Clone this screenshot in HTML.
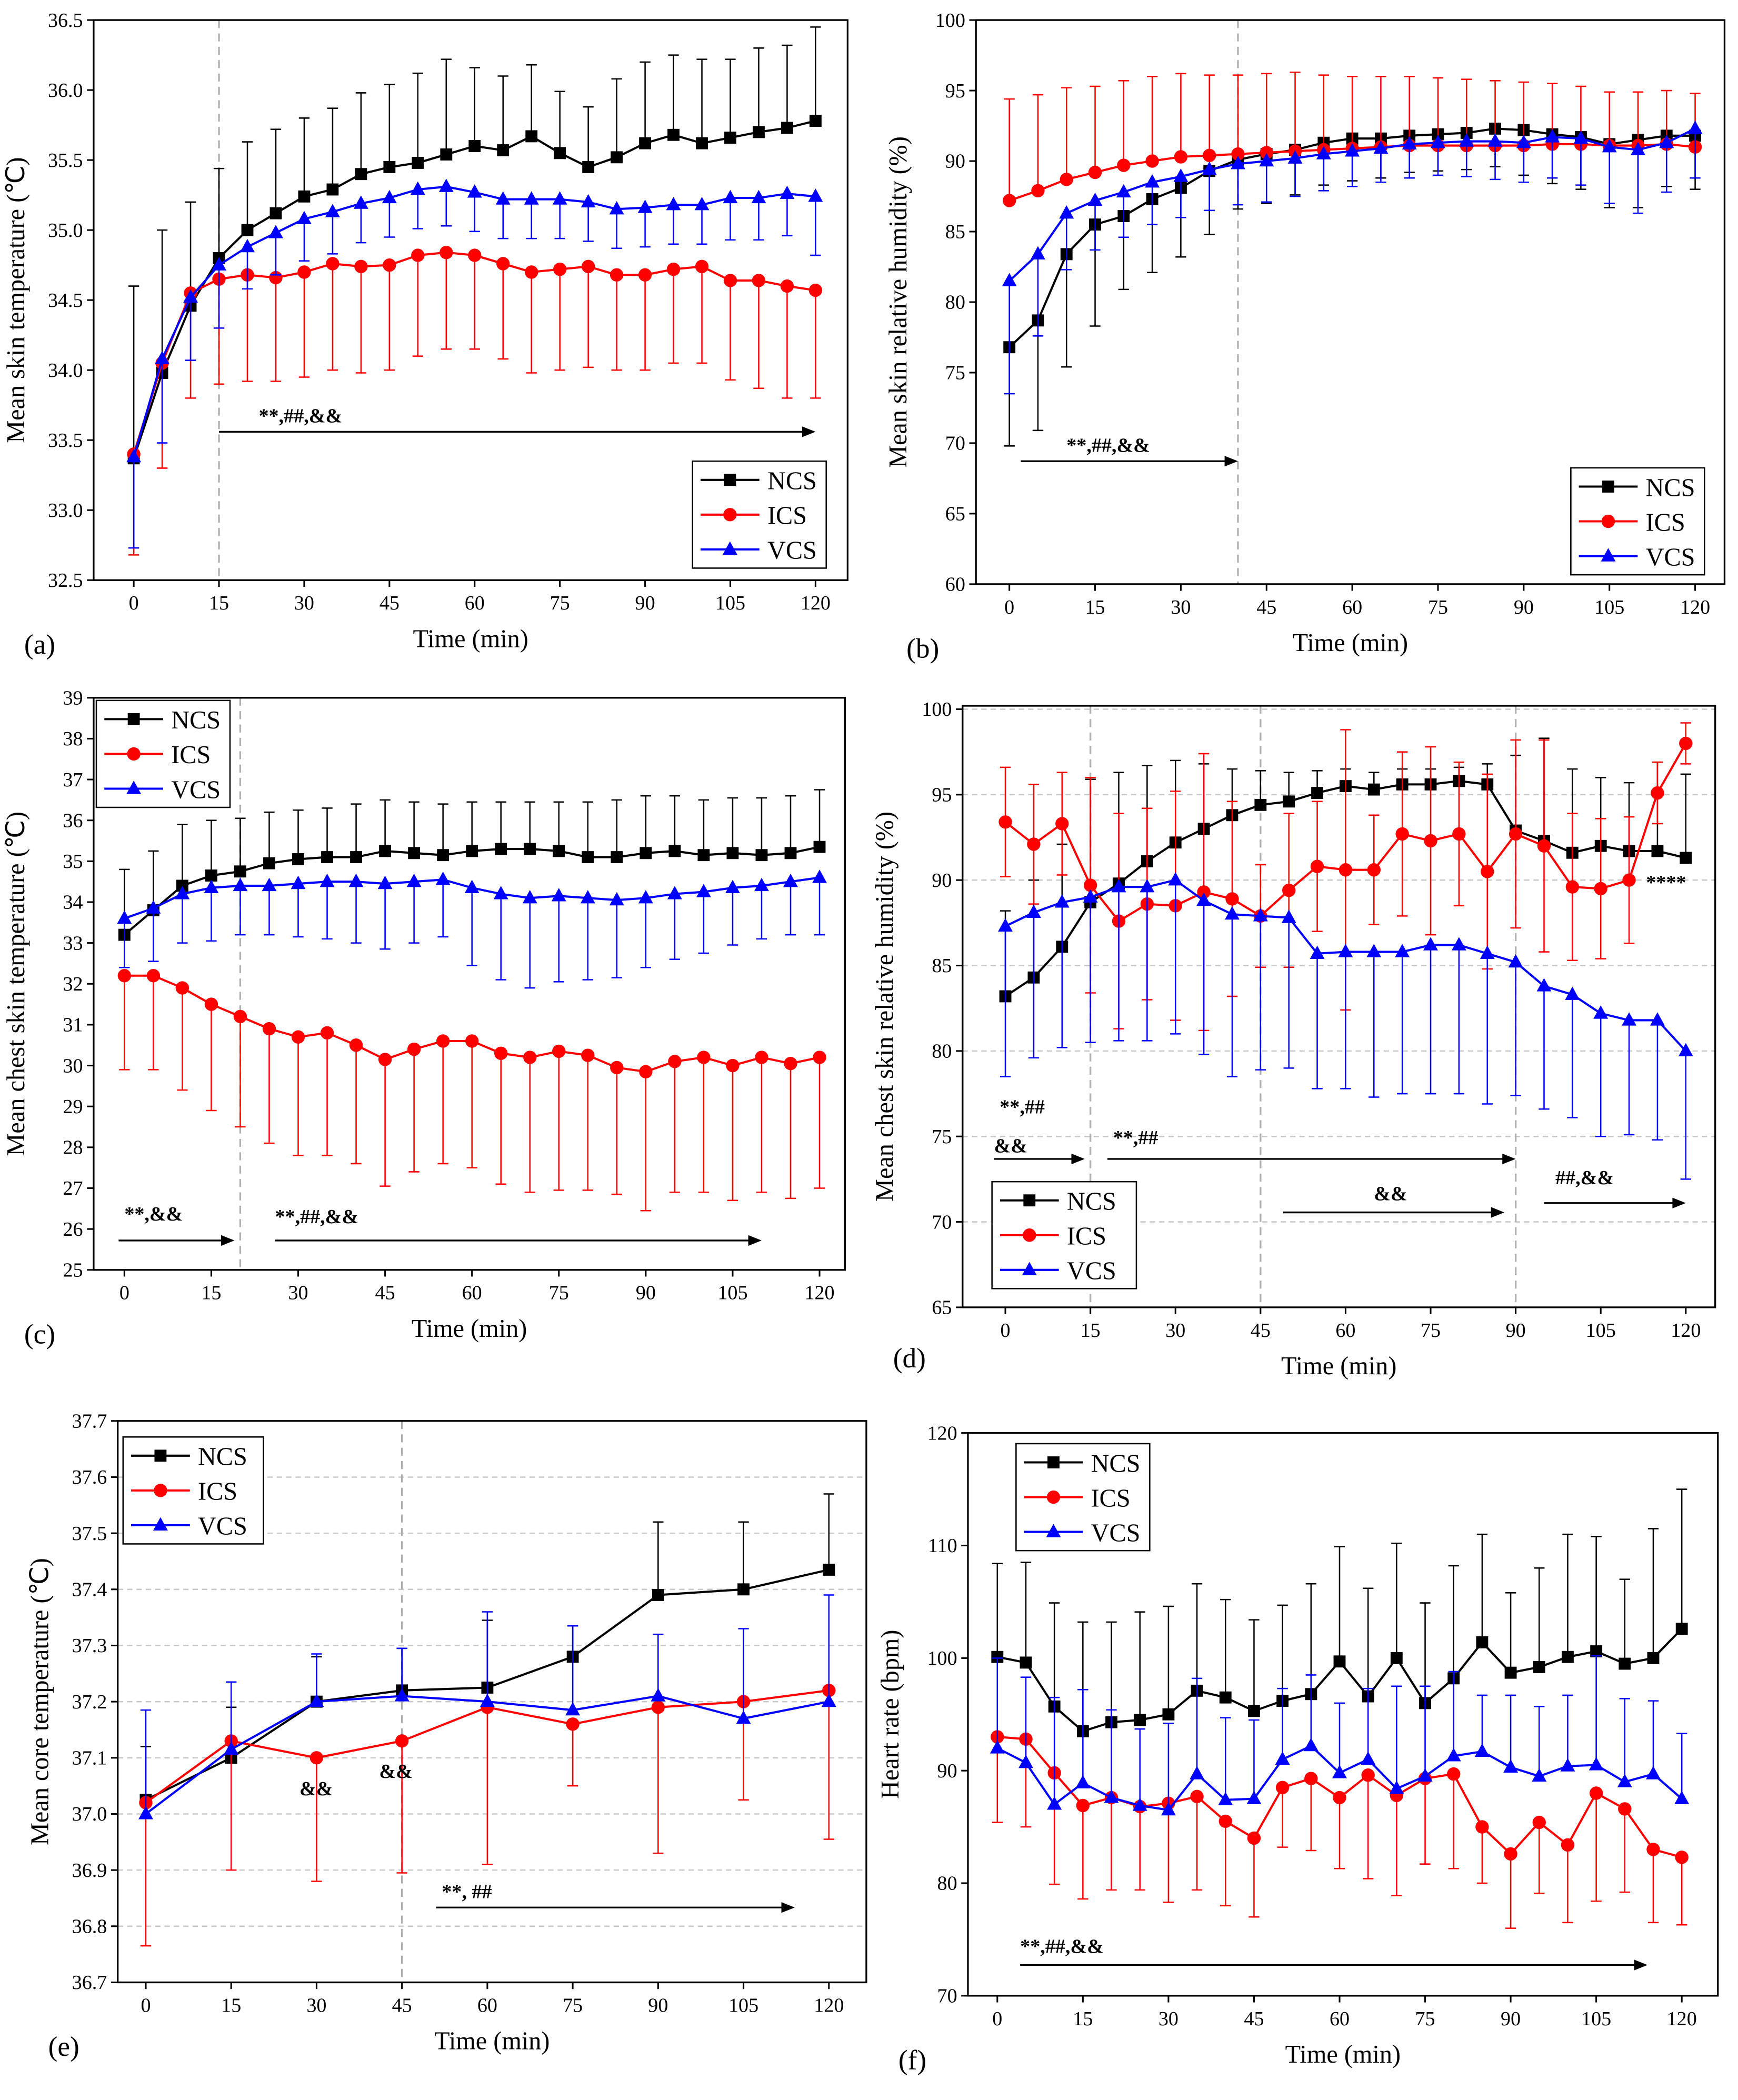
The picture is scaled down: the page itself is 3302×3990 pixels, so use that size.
<!DOCTYPE html>
<html><head><meta charset="utf-8"><style>
html,body{margin:0;padding:0;background:#fff}
svg{display:block}
text{font-family:"Liberation Serif",serif;fill:#000}
</style></head><body>
<svg id="fig" xmlns="http://www.w3.org/2000/svg" width="3302" height="3990" viewBox="0 0 1300 1571"></svg>
<script>
// ---------- data ----------
const t5 = [0,5,10,15,20,25,30,35,40,45,50,55,60,65,70,75,80,85,90,95,100,105,110,115,120];
const t15 = [0,15,30,45,60,75,90,105,120];
const xTicks = [0,15,30,45,60,75,90,105,120];

const aNCS = [33.37,33.98,34.46,34.80,35.00,35.12,35.24,35.29,35.40,35.45,35.48,35.54,35.60,35.57,35.67,35.55,35.45,35.52,35.62,35.68,35.62,35.66,35.70,35.73,35.78];
const aNCSerr = [1.23,1.02,0.74,0.64,0.63,0.60,0.56,0.58,0.58,0.59,0.64,0.68,0.56,0.53,0.51,0.44,0.43,0.56,0.58,0.57,0.60,0.56,0.60,0.59,0.67];
const aICS = [33.40,34.05,34.55,34.65,34.68,34.66,34.70,34.76,34.74,34.75,34.82,34.84,34.82,34.76,34.70,34.72,34.74,34.68,34.68,34.72,34.74,34.64,34.64,34.60,34.57];
const aICSerr = [0.72,0.75,0.75,0.75,0.76,0.74,0.75,0.76,0.76,0.75,0.72,0.69,0.67,0.68,0.72,0.72,0.72,0.68,0.68,0.67,0.69,0.71,0.77,0.80,0.77];
const aVCS = [33.38,34.08,34.52,34.75,34.88,34.98,35.08,35.13,35.19,35.23,35.29,35.31,35.27,35.22,35.22,35.22,35.20,35.15,35.16,35.18,35.18,35.23,35.23,35.26,35.24];
const aVCSerr = [0.65,0.60,0.45,0.45,0.30,0.30,0.30,0.30,0.28,0.28,0.28,0.28,0.28,0.28,0.28,0.28,0.28,0.28,0.28,0.28,0.28,0.30,0.30,0.30,0.42];

const bNCS = [76.8,78.7,83.4,85.5,86.1,87.3,88.1,89.3,90.1,90.5,90.8,91.3,91.6,91.6,91.8,91.9,92.0,92.3,92.2,91.9,91.7,91.2,91.5,91.8,91.8];
const bNCSerr = [7.0,7.8,8.0,7.2,5.2,5.2,4.9,4.5,3.5,3.5,3.2,3.0,3.0,2.8,2.6,2.6,2.6,2.7,3.2,3.5,3.7,4.5,4.8,3.6,3.8];
const bICS = [87.2,87.9,88.7,89.2,89.7,90.0,90.3,90.4,90.5,90.6,90.7,90.8,90.9,91.0,91.1,91.1,91.1,91.1,91.1,91.2,91.2,91.1,91.1,91.2,91.0];
const bICSerr = [7.2,6.8,6.5,6.1,6.0,6.0,5.9,5.7,5.6,5.6,5.6,5.3,5.1,5.0,4.9,4.8,4.7,4.6,4.5,4.3,4.1,3.8,3.8,3.8,3.8];
const bVCS = [81.5,83.4,86.3,87.2,87.8,88.5,88.9,89.4,89.8,90.0,90.2,90.5,90.7,90.9,91.2,91.3,91.4,91.4,91.3,91.7,91.6,91.0,90.8,91.3,92.3];
const bVCSerr = [8.0,5.8,4.0,3.5,3.2,3.0,2.9,2.9,2.9,2.9,2.7,2.6,2.5,2.4,2.4,2.3,2.5,2.7,2.8,2.9,3.3,4.0,4.5,3.5,3.5];

const cNCS = [33.2,33.8,34.4,34.65,34.75,34.95,35.05,35.1,35.1,35.25,35.2,35.15,35.25,35.3,35.3,35.25,35.1,35.1,35.2,35.25,35.15,35.2,35.15,35.2,35.35];
const cNCSerr = [1.6,1.45,1.5,1.35,1.3,1.25,1.2,1.2,1.3,1.25,1.25,1.25,1.2,1.15,1.15,1.2,1.35,1.4,1.4,1.35,1.35,1.35,1.4,1.4,1.4];
const cICS = [32.2,32.2,31.9,31.5,31.2,30.9,30.7,30.8,30.5,30.15,30.4,30.6,30.6,30.3,30.2,30.35,30.25,29.95,29.85,30.1,30.2,30.0,30.2,30.05,30.2];
const cICSerr = [2.3,2.3,2.5,2.6,2.7,2.8,2.9,3.0,2.9,3.1,3.0,3.0,3.1,3.2,3.3,3.4,3.3,3.1,3.4,3.2,3.3,3.3,3.3,3.3,3.2];
const cVCS = [33.6,33.85,34.2,34.35,34.4,34.4,34.45,34.5,34.5,34.45,34.5,34.55,34.35,34.2,34.1,34.15,34.1,34.05,34.1,34.2,34.25,34.35,34.4,34.5,34.6];
const cVCSerr = [1.2,1.3,1.2,1.3,1.2,1.2,1.3,1.4,1.5,1.6,1.5,1.4,1.9,2.1,2.2,2.1,2.0,1.9,1.7,1.6,1.5,1.4,1.3,1.3,1.4];

const dNCS = [83.2,84.3,86.1,88.7,89.8,91.1,92.2,93.0,93.8,94.4,94.6,95.1,95.5,95.3,95.6,95.6,95.8,95.6,92.9,92.3,91.6,92.0,91.7,91.7,91.3];
const dNCSerr = [5.0,5.7,6.0,7.2,6.5,5.6,4.8,3.8,2.7,2.0,1.7,1.3,1.0,1.0,0.9,0.9,0.8,1.2,4.4,6.0,4.9,4.0,4.0,5.2,4.9];
const dICS = [93.4,92.1,93.3,89.7,87.6,88.6,88.5,89.3,88.9,87.9,89.4,90.8,90.6,90.6,92.7,92.3,92.7,90.5,92.7,92.0,89.6,89.5,90.0,95.1,98.0];
const dICSerr = [3.2,3.5,3.0,6.3,6.3,5.6,6.7,8.1,5.7,3.0,4.5,3.8,8.2,3.2,4.8,5.5,4.2,5.7,5.5,6.2,4.3,4.1,3.7,1.8,1.2];
const dVCS = [87.3,88.1,88.7,89.0,89.6,89.6,90.0,88.8,88.0,87.9,87.8,85.7,85.8,85.8,85.8,86.2,86.2,85.7,85.2,83.8,83.3,82.2,81.8,81.8,80.0];
const dVCSerr = [8.8,8.5,8.5,8.5,9.0,9.0,9.0,9.0,9.5,9.0,8.8,7.9,8.0,8.5,8.3,8.7,8.7,8.8,7.8,7.2,7.2,7.2,6.7,7.0,7.5];

const eNCS = [37.025,37.10,37.20,37.22,37.225,37.28,37.39,37.40,37.435];
const eNCSerr = [0.095,0.09,0.08,0.075,0.12,0.055,0.13,0.12,0.135];
const eICS = [37.02,37.13,37.10,37.13,37.19,37.16,37.19,37.20,37.22];
const eICSerr = [0.255,0.23,0.22,0.235,0.28,0.11,0.26,0.175,0.265];
const eVCS = [37.0,37.115,37.20,37.21,37.20,37.185,37.21,37.17,37.20];
const eVCSerr = [0.185,0.12,0.085,0.085,0.16,0.15,0.11,0.16,0.19];

const fNCS = [100.1,99.6,95.7,93.5,94.3,94.5,95.0,97.1,96.5,95.3,96.2,96.8,99.7,96.6,100.0,96.0,98.2,101.4,98.7,99.2,100.1,100.6,99.5,100.0,102.6];
const fNCSerr = [8.3,8.9,9.2,9.7,8.9,9.6,9.6,9.5,8.7,8.1,8.5,9.8,10.2,9.6,10.2,8.9,10.0,9.6,7.1,8.8,10.9,10.2,7.5,11.5,12.4];
const fICS = [93.0,92.8,89.8,86.9,87.6,86.8,87.1,87.7,85.5,84.0,88.5,89.3,87.6,89.6,87.8,89.3,89.7,85.0,82.6,85.4,83.4,88.0,86.6,83.0,82.3];
const fICSerr = [7.6,7.8,9.9,8.3,8.2,7.4,8.8,8.3,7.5,7.0,5.3,6.4,6.3,9.2,8.9,7.6,8.4,5.0,6.6,6.3,6.9,9.6,7.4,6.5,6.0];
const fVCS = [92.0,90.7,87.0,88.9,87.6,86.9,86.5,89.7,87.4,87.5,91.0,92.2,89.8,91.0,88.4,89.5,91.3,91.7,90.3,89.5,90.4,90.5,89.0,89.7,87.5];
const fVCSerr = [8.0,7.6,9.5,8.3,7.8,6.8,7.7,8.5,7.3,7.0,6.3,6.3,6.2,6.3,9.1,8.0,7.5,5.0,6.4,6.2,6.3,9.7,7.4,6.5,5.8];

const aYTicks = [32.5,33.0,33.5,34.0,34.5,35.0,35.5,36.0,36.5];
const bYTicks = [60,65,70,75,80,85,90,95,100];
const cYTicks = [25,26,27,28,29,30,31,32,33,34,35,36,37,38,39];
const dYTicks = [65,70,75,80,85,90,95,100];
const eYTicks = [36.7,36.8,36.9,37.0,37.1,37.2,37.3,37.4,37.5,37.6,37.7];
const fYTicks = [70,80,90,100,110,120];

// ---------- drawing ----------
const NS="http://www.w3.org/2000/svg";
const svg=document.getElementById('fig');
function mk(tag,attrs,parent){const e=document.createElementNS(NS,tag);for(const k in attrs)e.setAttribute(k,attrs[k]);(parent||svg).appendChild(e);return e;}
function txt(x,y,s,size,anchor,parent,extra){const e=mk('text',Object.assign({x:x,y:y,'font-size':size,'text-anchor':anchor||'middle'},extra||{}),parent);e.textContent=s;return e;}

function marker(g,kind,x,y,color){
  let m;
  if(kind==='sq') m=mk('rect',{x:x-4.5,y:y-4.5,width:9,height:9,fill:color},g);
  else if(kind==='ci') m=mk('circle',{cx:x,cy:y,r:5,fill:color},g);
  else m=mk('polygon',{points:`${x},${y-6} ${x-5.5},${y+4} ${x+5.5},${y+4}`,fill:color},g);
  
  
}

function panel(p){
  const g=mk('g',{},svg);
  
  
  const X=v=>p.x0+(p.x1-p.x0)*v/120;
  const Y=v=>p.bot+(p.top-p.bot)*(v-p.ymin)/(p.ymax-p.ymin);
  if(p.grid){p.yt.forEach(v=>{if(v>p.ymin&&v<p.ymax){const l=mk('line',{x1:p.L,x2:p.R,y1:Y(v),y2:Y(v),stroke:'#c8c8c8','stroke-width':1,'stroke-dasharray':'4,3'},g);}});}
  (p.vlines||[]).forEach(v=>{const l=mk('line',{x1:X(v),x2:X(v),y1:p.top,y2:p.bot,stroke:'#b0b0b0','stroke-width':1.3,'stroke-dasharray':'6,4'},g);});
  const fr=mk('rect',{x:p.L,y:p.top,width:p.R-p.L,height:p.bot-p.top,fill:'none',stroke:'#000','stroke-width':1.3},g);
  
  p.yt.forEach(v=>{mk('line',{x1:p.L,x2:p.L-5,y1:Y(v),y2:Y(v),stroke:'#000','stroke-width':1.2},g);
    const t=txt(p.L-8,Y(v)+5,p.yfmt(v),15,'end',g);});
  xTicks.forEach(v=>{mk('line',{x1:X(v),x2:X(v),y1:p.bot,y2:p.bot+5,stroke:'#000','stroke-width':1.2},g);
    const t=txt(X(v),p.bot+22,String(v),15,'middle',g);});
  const xt=txt((p.L+p.R)/2,p.bot+50,'Time (min)',19,'middle',g);
  const yt=txt(0,0,p.ytitle,19,'middle',g,{transform:`translate(${p.L-52},${(p.top+p.bot)/2}) rotate(-90)`});
  
  const lb=txt(p.L-52,p.bot+(p.lby||55),p.label,21,'start',g);
  p.series.forEach(s=>{
    const sg=mk('g',{},g);
    s.vals.forEach((v,i)=>{const x=X(p.t[i]);const e=s.err[i];
      let y1=Y(v),y2=Y(v);
      if(s.dir!=='down')y1=Y(v+e); if(s.dir!=='up')y2=Y(v-e);
      mk('line',{x1:x,x2:x,y1:y1,y2:y2,stroke:s.color,'stroke-width':1},sg);
      if(s.dir!=='down')mk('line',{x1:x-4,x2:x+4,y1:y1,y2:y1,stroke:s.color,'stroke-width':1},sg);
      if(s.dir!=='up')mk('line',{x1:x-4,x2:x+4,y1:y2,y2:y2,stroke:s.color,'stroke-width':1},sg);
    });
    const pts=s.vals.map((v,i)=>X(p.t[i])+','+Y(v)).join(' ');
    const pl=mk('polyline',{points:pts,fill:'none',stroke:s.color,'stroke-width':1.6},sg);
    
    s.vals.forEach((v,i)=>marker(sg,s.mk,X(p.t[i]),Y(v),s.color));
  });
  (p.arrows||[]).forEach(a=>{
    const ag=mk('g',{},g);
    if(a[0]!==null){const xa=X(a[0]),xb=X(a[1]);
      mk('line',{x1:xa,x2:xb-8,y1:a[2],y2:a[2],stroke:'#000','stroke-width':1.3},ag);
      mk('polygon',{points:`${xb},${a[2]} ${xb-10},${a[2]-4} ${xb-10},${a[2]+4}`,fill:'#000'},ag);}
    if(a[3]){const t=txt(X(a[4]),a[5],a[3],15,'start',ag,{'font-weight':'bold'});}
  });
  const lg=mk('g',{},g);
  mk('rect',{x:p.leg[0],y:p.leg[1],width:p.leg[2],height:80,fill:'#fff',stroke:'#000','stroke-width':1},lg);
  p.series.forEach((s,i)=>{const yy=p.leg[1]+14+i*26;const x0=p.leg[0]+6;
    const eg=mk('g',{},lg);
    mk('line',{x1:x0,x2:x0+44,y1:yy,y2:yy,stroke:s.color,'stroke-width':1.6},eg);
    marker(eg,s.mk,x0+22,yy,s.color);
    txt(x0+50,yy+7,s.name,19,'start',eg);
  });
}
const f1=v=>v.toFixed(1), f0=v=>String(v);
function S(n,c,m,v,e,d){return {name:n,color:c,mk:m,vals:v,err:e,dir:d};}
const K='#000',R='#f00',B='#00f';

panel({id:'a',label:'(a)',L:70,R:634,top:15,bot:434,x0:100,x1:610,ymin:32.5,ymax:36.5,yt:aYTicks,yfmt:f1,t:t5,
  ytitle:'Mean skin temperature (℃)',vlines:[15],leg:[518,345,100],
  arrows:[[15,120,323,'**,##,&&',22,316]],
  series:[S('NCS',K,'sq',aNCS,aNCSerr,'up'),S('ICS',R,'ci',aICS,aICSerr,'down'),S('VCS',B,'tr',aVCS,aVCSerr,'down')]});
panel({id:'b',label:'(b)',L:730,R:1290,top:15,bot:437,x0:755,x1:1268,ymin:60,ymax:100,yt:bYTicks,yfmt:f0,t:t5,
  ytitle:'Mean skin relative humidity (%)',vlines:[40],leg:[1175,350,100],
  arrows:[[2,40,345,'**,##,&&',10,338]],
  series:[S('NCS',K,'sq',bNCS,bNCSerr,'down'),S('ICS',R,'ci',bICS,bICSerr,'up'),S('VCS',B,'tr',bVCS,bVCSerr,'down')]});
panel({id:'c',label:'(c)',L:70,R:632,top:522,bot:950,x0:93,x1:613,ymin:25,ymax:39,yt:cYTicks,yfmt:f0,t:t5,
  ytitle:'Mean chest skin temperature (℃)',vlines:[20],leg:[72,524,100],
  arrows:[[-1,19,928,'**,&&',0,913],[26,110,928,'**,##,&&',26,915]],
  series:[S('NCS',K,'sq',cNCS,cNCSerr,'up'),S('ICS',R,'ci',cICS,cICSerr,'down'),S('VCS',B,'tr',cVCS,cVCSerr,'down')]});
panel({id:'d',label:'(d)',L:720,R:1283,top:528,bot:978,x0:752,x1:1261,ymin:65,ymax:100.2,yt:dYTicks,yfmt:f0,t:t5,grid:true,lby:45,
  ytitle:'Mean chest skin relative humidity (%)',vlines:[15,45,90],leg:[742,884,108],
  arrows:[[-2,14,867,'**,##',-1,833],[null,0,0,'&&',-2,862],[18,90,867,'**,##',19,856],[49,88,907,'&&',65,898],[95,120,900,'##,&&',97,886],[null,0,0,'****',113,665]],
  series:[S('NCS',K,'sq',dNCS,dNCSerr,'up'),S('ICS',R,'ci',dICS,dICSerr,'both'),S('VCS',B,'tr',dVCS,dVCSerr,'down')]});
panel({id:'e',label:'(e)',L:88,R:648,top:1063,bot:1483,x0:109,x1:620,ymin:36.7,ymax:37.7,yt:eYTicks,yfmt:f1,t:t15,grid:true,
  ytitle:'Mean core temperature (℃)',vlines:[45],leg:[92,1075,105],
  arrows:[[51,114,1427,'**,  ##',52,1420],[null,0,0,'&&',27,1343],[null,0,0,'&&',41,1330]],
  series:[S('NCS',K,'sq',eNCS,eNCSerr,'up'),S('ICS',R,'ci',eICS,eICSerr,'down'),S('VCS',B,'tr',eVCS,eVCSerr,'up')]});
panel({id:'f',label:'(f)',L:724,R:1285,top:1072,bot:1493,x0:746,x1:1258,ymin:70,ymax:120,yt:fYTicks,yfmt:f0,t:t5,
  ytitle:'Heart rate (bpm)',vlines:[],leg:[760,1080,100],
  arrows:[[4,114,1470,'**,##,&&',4,1461]],
  series:[S('NCS',K,'sq',fNCS,fNCSerr,'up'),S('ICS',R,'ci',fICS,fICSerr,'down'),S('VCS',B,'tr',fVCS,fVCSerr,'up')]});
</script>
</body></html>
